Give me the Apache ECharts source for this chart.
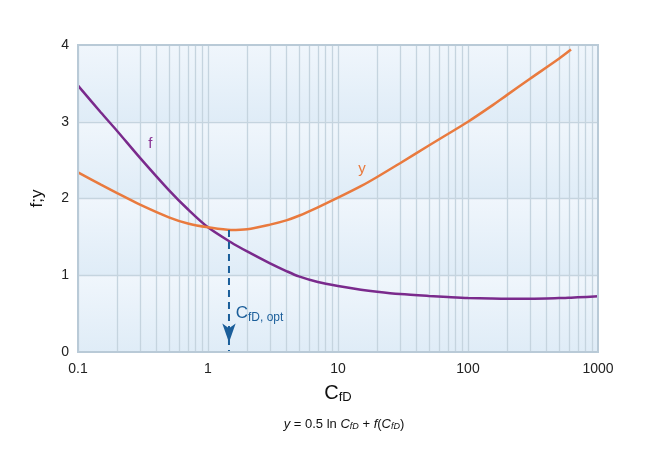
<!DOCTYPE html>
<html>
<head>
<meta charset="utf-8">
<script src="https://cdn.jsdelivr.net/npm/echarts@6/dist/echarts.min.js"></script>
<style>
html,body{margin:0;padding:0;background:#fff;}
#chart{width:650px;height:452px;}
</style>
</head>
<body>
<div id="chart"></div>
<script>
// ---- data ----
const cfdValues = [0.1, 0.15, 0.2, 0.3, 0.5, 0.7, 1, 1.5, 2, 3, 4, 5, 7, 10, 15, 20, 30, 50, 70, 100, 150, 200, 300, 500, 620, 700, 1000];
const fValues   = [3.47, 3.12, 2.88, 2.53, 2.11, 1.86, 1.625, 1.43, 1.31, 1.155, 1.055, 0.985, 0.912, 0.86, 0.812, 0.785, 0.755, 0.73, 0.717, 0.705, 0.698, 0.695, 0.695, 0.702, 0.708, 0.712, 0.725];
const yCfd      = [0.1, 0.15, 0.2, 0.3, 0.5, 0.7, 1, 1.5, 2, 3, 4, 5, 7, 10, 15, 20, 30, 50, 70, 100, 150, 200, 300, 500, 620];
const yValues   = [2.34, 2.18, 2.07, 1.92, 1.755, 1.675, 1.625, 1.59, 1.60, 1.66, 1.715, 1.775, 1.885, 2.01, 2.16, 2.28, 2.46, 2.69, 2.84, 3.0, 3.2, 3.35, 3.56, 3.82, 3.94];
const cfdOpt = 1.45;
const yMin = 1.59;
const xTickLabels = ['0.1', '1', '10', '100', '1000'];
const yTickLabels = ['0', '1', '2', '3', '4'];
const decades = [0.1, 1, 10, 100];
const minorMultipliers = [2, 3, 4, 5, 6, 7, 8, 9];
const fLabelPos = [0.36, 2.71];
const yLabelPos = [15.3, 2.38];
const optLabelPos = [1.62, 0.5];

const fData = cfdValues.map((x, i) => [x, fValues[i]]);
const yData = yCfd.map((x, i) => [x, yValues[i]]);
const optData = [[cfdOpt, yMin], [cfdOpt, 0]];

const gridColor = '#c5d4df';
const vLines = [];
decades.forEach(d => {
  vLines.push({ xAxis: d });
  minorMultipliers.forEach(m => vLines.push({ xAxis: d * m }));
});
const hLines = [1, 2, 3].map(v => ({ yAxis: v }));

const bandGrad = () => new echarts.graphic.LinearGradient(0, 0, 0, 1, [
  { offset: 0, color: '#f0f6fc' },
  { offset: 1, color: '#dfecf7' }
]);
const bands = [[3, 4], [2, 3], [1, 2], [0, 1]].map(b => [
  { yAxis: b[1], itemStyle: { color: bandGrad() } },
  { yAxis: b[0] }
]);

const font = '"Liberation Sans", Arial, Helvetica, sans-serif';
const chart = echarts.init(document.getElementById('chart'), null, { renderer: 'canvas' });

chart.setOption({
  backgroundColor: '#ffffff',
  animation: false,
  textStyle: { fontFamily: font },
  title: {
    text: '{i|y} = 0.5 ln {i|C}{si|fD} + {i|f}({i|C}{si|fD})',
    left: 339, textAlign: 'center', top: 412,
    textStyle: {
      fontSize: 13, fontWeight: 'normal', color: '#111', fontFamily: font,
      rich: {
        i: { fontSize: 13, fontStyle: 'italic', color: '#111', fontFamily: font },
        si: { fontSize: 9, fontStyle: 'italic', color: '#111', fontFamily: font, padding: [5, 0, 0, 0] }
      }
    }
  },
  grid: {
    left: 78, right: 52, top: 45, bottom: 100,
    show: true, z: 10, backgroundColor: 'transparent',
    borderColor: '#b9cad7', borderWidth: 2
  },
  xAxis: {
    type: 'log', logBase: 10, min: 0.1, max: 1000,
    name: '{c|C}{s|fD}', nameLocation: 'middle', nameGap: 30,
    nameTextStyle: {
      rich: {
        c: { fontSize: 20, color: '#111', fontFamily: font },
        s: { fontSize: 13, color: '#111', fontFamily: font, padding: [9, 0, 0, 0] }
      }
    },
    axisLine: { show: false },
    axisTick: { show: false },
    splitLine: { show: false },
    axisLabel: {
      fontSize: 14, color: '#222', margin: 10, fontFamily: font,
      formatter: v => xTickLabels[Math.round(Math.log10(v)) + 1]
    }
  },
  yAxis: {
    type: 'value', min: 0, max: 4, interval: 1,
    name: 'f;y', nameLocation: 'middle', nameGap: 32, nameRotate: 90,
    nameTextStyle: { fontSize: 17, color: '#111', fontFamily: font },
    axisLine: { show: false },
    axisTick: { show: false },
    splitLine: { show: false },
    axisLabel: {
      fontSize: 14, color: '#222', margin: 9, fontFamily: font,
      formatter: v => yTickLabels[Math.round(v)]
    }
  },
  series: [
    {
      name: 'bg', type: 'line', data: [], z: 1, silent: true,
      markArea: { silent: true, z: 0, data: bands }
    },
    {
      name: 'gridlines', type: 'line', data: [], z: 1, silent: true,
      markLine: {
        silent: true, symbol: 'none', animation: false, z: 1,
        label: { show: false },
        lineStyle: { color: gridColor, width: 1.3, type: 'solid' },
        emphasis: { disabled: true },
        data: vLines.concat(hLines)
      }
    },
    {
      name: 'f', type: 'line', data: fData, z: 3,
      smooth: 0.3, showSymbol: false, symbol: 'none',
      lineStyle: { color: '#7a2a8c', width: 2.5 },
      markPoint: {
        symbol: 'rect', symbolSize: 1, itemStyle: { color: 'transparent' },
        label: { show: true, position: 'inside', formatter: 'f', fontSize: 15, color: '#8a3394', fontFamily: font },
        data: [{ coord: fLabelPos }]
      }
    },
    {
      name: 'y', type: 'line', data: yData, z: 4,
      smooth: 0.3, showSymbol: false, symbol: 'none',
      lineStyle: { color: '#e97a3e', width: 2.5 },
      markPoint: {
        symbol: 'rect', symbolSize: 1, itemStyle: { color: 'transparent' },
        label: { show: true, position: 'inside', formatter: 'y', fontSize: 15, color: '#e97a3e', fontFamily: font },
        data: [{ coord: yLabelPos }]
      }
    },
    {
      name: 'opt', type: 'line', data: optData, z: 5,
      showSymbol: true,
      symbol: (val, params) => params.dataIndex === 1 ? 'arrow' : 'none',
      symbolSize: [10, 19], symbolRotate: 180, symbolOffset: [0, '-50%'],
      itemStyle: { color: '#1b5e9a' },
      lineStyle: { color: '#1b5e9a', width: 2, type: [7, 5] },
      markPoint: {
        symbol: 'rect', symbolSize: 1, itemStyle: { color: 'transparent' },
        label: {
          show: true, position: 'right', distance: 0,
          formatter: '{c|C}{s|fD, opt}',
          rich: {
            c: { fontSize: 17, color: '#1b5e9a', fontFamily: font },
            s: { fontSize: 12, color: '#1b5e9a', fontFamily: font, padding: [8, 0, 0, 0] }
          }
        },
        data: [{ coord: optLabelPos }]
      }
    }
  ]
});
</script>
</body>
</html>
